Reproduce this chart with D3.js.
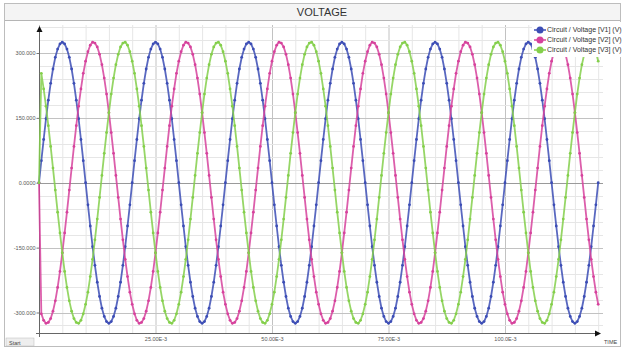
<!DOCTYPE html>
<html>
<head>
<meta charset="utf-8">
<script src="https://cdn.jsdelivr.net/npm/d3@7/dist/d3.min.js"></script>
<style>
  body { margin: 0; background: #fff; overflow: hidden; }
  svg { display: block; font-family: "Liberation Sans", Arial, sans-serif; }
</style>
</head>
<body>
<div id="wrapper"></div>
<script>
// sample step of the simulation, in ms
const sampleMs = 0.5;

// V1, V2, V3 samples (volts)
const v1 = [
  0,51,100,148,191,230,263,290,309,321,325,321,309,290,263,230,191,148,100,51,0,-51,-100,-148,-191,-230,-263,-290,-309,-321,-325,-321,-309,-290,-263,-230,-191,-148,-100,-51,
  0,51,100,148,191,230,263,290,309,321,325,321,309,290,263,230,191,148,100,51,0,-51,-100,-148,-191,-230,-263,-290,-309,-321,-325,-321,-309,-290,-263,-230,-191,-148,-100,-51,
  0,51,100,148,191,230,263,290,309,321,325,321,309,290,263,230,191,148,100,51,0,-51,-100,-148,-191,-230,-263,-290,-309,-321,-325,-321,-309,-290,-263,-230,-191,-148,-100,-51,
  0,51,100,148,191,230,263,290,309,321,325,321,309,290,263,230,191,148,100,51,0,-51,-100,-148,-191,-230,-263,-290,-309,-321,-325,-321,-309,-290,-263,-230,-191,-148,-100,-51,
  0,51,100,148,191,230,263,290,309,321,325,321,309,290,263,230,191,148,100,51,0,-51,-100,-148,-191,-230,-263,-290,-309,-321,-325,-321,-309,-290,-263,-230,-191,-148,-100,-51,
  0,51,100,148,191,230,263,290,309,321,325,321,309,290,263,230,191,148,100,51,0,-51,-100,-148,-191,-230,-263,-290,-309,-321,-325,-321,-309,-290,-263,-230,-191,-148,-100,-51,
  0
];
const v2 = [
  0,-303,-318,-325,-323,-314,-297,-273,-242,-205,-162,-116,-68,-17,34,84,132,177,217,253,281,303,318,325,323,314,297,273,242,205,162,116,68,17,-34,-84,-132,-177,-217,-253,
  -281,-303,-318,-325,-323,-314,-297,-273,-242,-205,-162,-116,-68,-17,34,84,132,177,217,253,281,303,318,325,323,314,297,273,242,205,162,116,68,17,-34,-84,-132,-177,-217,-253,
  -281,-303,-318,-325,-323,-314,-297,-273,-242,-205,-162,-116,-68,-17,34,84,132,177,217,253,281,303,318,325,323,314,297,273,242,205,162,116,68,17,-34,-84,-132,-177,-217,-253,
  -281,-303,-318,-325,-323,-314,-297,-273,-242,-205,-162,-116,-68,-17,34,84,132,177,217,253,281,303,318,325,323,314,297,273,242,205,162,116,68,17,-34,-84,-132,-177,-217,-253,
  -281,-303,-318,-325,-323,-314,-297,-273,-242,-205,-162,-116,-68,-17,34,84,132,177,217,253,281,303,318,325,323,314,297,273,242,205,162,116,68,17,-34,-84,-132,-177,-217,-253,
  -281,-303,-318,-325,-323,-314,-297,-273,-242,-205,-162,-116,-68,-17,34,84,132,177,217,253,281,303,318,325,323,314,297,273,242,205,162,116,68,17,-34,-84,-132,-177,-217,-253,
  -281
];
const v3 = [
  0,253,217,177,132,84,34,-17,-68,-116,-162,-205,-242,-273,-297,-314,-323,-325,-318,-303,-281,-253,-217,-177,-132,-84,-34,17,68,116,162,205,242,273,297,314,323,325,318,303,
  281,253,217,177,132,84,34,-17,-68,-116,-162,-205,-242,-273,-297,-314,-323,-325,-318,-303,-281,-253,-217,-177,-132,-84,-34,17,68,116,162,205,242,273,297,314,323,325,318,303,
  281,253,217,177,132,84,34,-17,-68,-116,-162,-205,-242,-273,-297,-314,-323,-325,-318,-303,-281,-253,-217,-177,-132,-84,-34,17,68,116,162,205,242,273,297,314,323,325,318,303,
  281,253,217,177,132,84,34,-17,-68,-116,-162,-205,-242,-273,-297,-314,-323,-325,-318,-303,-281,-253,-217,-177,-132,-84,-34,17,68,116,162,205,242,273,297,314,323,325,318,303,
  281,253,217,177,132,84,34,-17,-68,-116,-162,-205,-242,-273,-297,-314,-323,-325,-318,-303,-281,-253,-217,-177,-132,-84,-34,17,68,116,162,205,242,273,297,314,323,325,318,303,
  281,253,217,177,132,84,34,-17,-68,-116,-162,-205,-242,-273,-297,-314,-323,-325,-318,-303,-281,-253,-217,-177,-132,-84,-34,17,68,116,162,205,242,273,297,314,323,325,318,303,
  281
];

const seriesNames = ['Circuit / Voltage [V1] (V)', 'Circuit / Voltage [V2] (V)', 'Circuit / Voltage [V3] (V)'];
const seriesColors = ['#3c4db5', '#d6429c', '#84cf4b'];

const yTicks = [300, 150, 0, -150, -300];
const yTickLabels = ['300.000', '150.000', '0.0000', '-150.000', '-300.000'];
const xTicks = [25, 50, 75, 100];
const xTickLabels = ['25.00E-3', '50.00E-3', '75.00E-3', '100.0E-3'];

const width = 625;
const height = 350;

const svg = d3.select('#wrapper')
  .append('svg')
  .attr('width', width)
  .attr('height', height);

const x = d3.scaleLinear().domain([0, 100]).range([39, 505]);
const y = d3.scaleLinear().domain([-300, 300]).range([312.5, 53]);

const plotTop = 25, plotBottom = 333, plotRight = 603;

// frame + title bar
svg.append('rect').attr('x', 4.5).attr('y', 3.5).attr('width', 616).attr('height', 343)
  .attr('fill', '#fff').attr('stroke', '#bdbdbd');
svg.append('rect').attr('x', 5).attr('y', 4).attr('width', 615).attr('height', 16)
  .attr('fill', '#f4f4f4');
svg.append('line').attr('x1', 5).attr('x2', 620).attr('y1', 20.5).attr('y2', 20.5)
  .attr('stroke', '#b5b5b5');
svg.append('text').attr('x', 322).attr('y', 16).attr('text-anchor', 'middle')
  .attr('font-size', 11).attr('fill', '#333').text('VOLTAGE');

// grid
const g = svg.append('g');
g.selectAll('.vminor').data(d3.range(0, 121, 5)).enter().append('line')
  .attr('x1', d => x(d) + 0.5).attr('x2', d => x(d) + 0.5)
  .attr('y1', plotTop).attr('y2', plotBottom)
  .attr('stroke', d => d % 25 === 0 ? '#c2c2c2' : '#e6e6e6');
g.selectAll('.hminor').data(d3.range(-330, 361, 30)).enter().append('line')
  .attr('x1', 39).attr('x2', plotRight)
  .attr('y1', d => Math.round(y(d)) + 0.5).attr('y2', d => Math.round(y(d)) + 0.5)
  .attr('stroke', d => d === 0 ? '#9a9a9a' : (d % 150 === 0 ? '#c2c2c2' : '#e6e6e6'));

// axes
const yAxis = d3.axisLeft(y).tickValues(yTicks).tickSize(3)
  .tickFormat((d, i) => yTickLabels[i]);
const ya = svg.append('g').attr('transform', 'translate(39.5,0)').call(yAxis);
ya.select('.domain').remove();
ya.selectAll('text').attr('font-size', 5.5).attr('fill', '#555').attr('x', -4);
ya.selectAll('line').attr('stroke', '#777');

const xAxis = d3.axisBottom(x).tickValues(xTicks).tickSize(0)
  .tickFormat((d, i) => xTickLabels[i]);
const xa = svg.append('g').attr('transform', `translate(0,${plotBottom})`).call(xAxis);
xa.select('.domain').remove();
xa.selectAll('text').attr('font-size', 5.5).attr('fill', '#555').attr('dy', '0.9em');

svg.append('line').attr('x1', 39.5).attr('x2', 39.5).attr('y1', 30).attr('y2', 337)
  .attr('stroke', '#666');
svg.append('line').attr('x1', 36).attr('x2', 596).attr('y1', plotBottom + 0.5).attr('y2', plotBottom + 0.5)
  .attr('stroke', '#666');
svg.append('path').attr('d', 'M39.5,26 L36.5,32 L42.5,32 Z').attr('fill', '#111');
svg.append('path').attr('d', 'M601,333.5 L595,330.5 L595,336.5 Z').attr('fill', '#111');

svg.append('rect').attr('x', 6).attr('y', 338).attr('width', 28).attr('height', 8)
  .attr('fill', '#eee').attr('stroke', '#bbb').attr('stroke-width', 0.5);
svg.append('text').attr('x', 9).attr('y', 344.5).attr('font-size', 5.5).attr('fill', '#444').text('Start');
svg.append('text').attr('x', 604).attr('y', 344).attr('font-size', 5.5).attr('fill', '#444').text('TIME');

// series
const seriesData = [v1, v2, v3];
const line = d3.line().x((d, i) => x(i * sampleMs)).y(d => y(d));

seriesData.forEach((vals, s) => {
  const sg = svg.append('g');
  sg.append('path').datum(vals)
    .attr('d', line)
    .attr('fill', 'none')
    .attr('stroke', seriesColors[s])
    .attr('stroke-width', 1.8)
    .attr('stroke-opacity', 0.85);
  sg.selectAll('circle').data(vals).enter().append('circle')
    .attr('cx', (d, i) => x(i * sampleMs))
    .attr('cy', d => y(d))
    .attr('r', 1.4)
    .attr('fill', seriesColors[s]);
});

// legend
const leg = svg.append('g');
leg.append('rect').attr('x', 532).attr('y', 22).attr('width', 93).attr('height', 35).attr('fill', '#fff');
seriesNames.forEach((name, i) => {
  const ly = 30 + i * 10;
  leg.append('line').attr('x1', 534).attr('x2', 546).attr('y1', ly).attr('y2', ly)
    .attr('stroke', seriesColors[i]).attr('stroke-width', 1.5);
  leg.append('circle').attr('cx', 540).attr('cy', ly).attr('r', 3.5).attr('fill', seriesColors[i]);
  leg.append('text').attr('x', 547).attr('y', ly + 2.4).attr('font-size', 7)
    .attr('fill', '#333').text(name);
});
</script>
</body>
</html>
